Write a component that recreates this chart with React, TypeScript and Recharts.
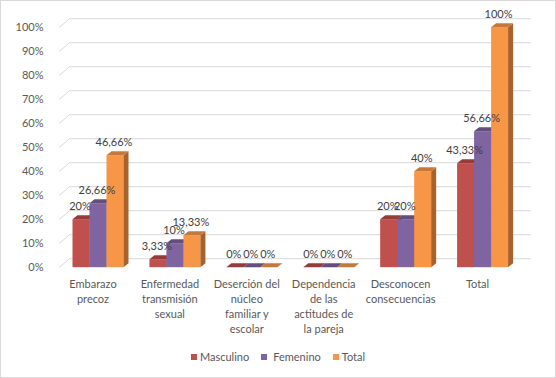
import React from "react";
import { BarChart, Bar, XAxis, YAxis, CartesianGrid, LabelList } from "recharts";

const categories = [
  "Embarazo precoz",
  "Enfermedad transmisión sexual",
  "Deserción del núcleo familiar y escolar",
  "Dependencia de las actitudes de la pareja",
  "Desconocen consecuencias",
  "Total",
];
const categoryLines = [
  ["Embarazo", "precoz"],
  ["Enfermedad", "transmisión", "sexual"],
  ["Deserción del", "núcleo", "familiar y", "escolar"],
  ["Dependencia", "de las", "actitudes de", "la pareja"],
  ["Desconocen", "consecuencias"],
  ["Total"],
];
const masculino = [20, 3.33, 0, 0, 20, 43.33];
const femenino = [26.66, 10, 0, 0, 20, 56.66];
const total = [46.66, 13.33, 0, 0, 40, 100];
const yTicks = [0, 10, 20, 30, 40, 50, 60, 70, 80, 90, 100];

const seriesInfo = [
  { key: "masculino", name: "Masculino", front: "#C0504D", top: "#963B38", side: "#8C3734" },
  { key: "femenino", name: "Femenino", front: "#8064A2", top: "#634E7E", side: "#5C4876" },
  { key: "total", name: "Total", front: "#F79646", top: "#C5783A", side: "#A8622C" },
];

const data = categories.map((c, i) => ({
  category: c,
  idx: i,
  masculino: masculino[i],
  femenino: femenino[i],
  total: total[i],
}));

const FONT = "Lato, 'Liberation Sans', sans-serif";
const DX = 5;
const DY = 4;
const GX = 10;
const GY = 8.5;

const make3D = (front: string, top: string, side: string) => (props: any) => {
  const { x, y, width, height } = props;
  if (x == null || y == null) return <g />;
  const h = Math.max(0, height || 0);
  const w = width;
  return (
    <g>
      <rect x={x} y={y} width={w} height={h} fill={front} />
      <polygon
        points={`${x + w},${y} ${x + w + DX},${y - DY} ${x + w + DX},${y + h - DY} ${x + w},${y + h}`}
        fill={side}
      />
      <polygon
        points={`${x},${y} ${x + DX},${y - DY} ${x + w + DX},${y - DY} ${x + w},${y}`}
        fill={top}
      />
    </g>
  );
};

const fmt = (v: number) => `${String(v).replace(".", ",")}%`;

const renderLabel = (p: any) => {
  const { x, y, width, value } = p;
  return (
    <text
      x={x + width / 2 - 1}
      y={y - 9}
      textAnchor="middle"
      fontFamily={FONT}
      fontSize={11}
      fill="#404040"
    >
      {fmt(value)}
    </text>
  );
};

const XTick = (props: any) => {
  const { x, y, index } = props;
  const lines = categoryLines[index] || [];
  return (
    <text x={x - 5} y={y + 21} textAnchor="middle" fontFamily={FONT} fontSize={11} fill="#595959">
      {lines.map((l: string, i: number) => (
        <tspan key={i} x={x - 5} dy={i === 0 ? 0 : 14.8}>
          {l}
        </tspan>
      ))}
    </text>
  );
};

const gridLine = (p: any) => {
  const { x1, y1, x2, y2 } = p;
  return (
    <g key={p.key}>
      <line x1={x1} y1={y1} x2={x1 + GX} y2={y1 - GY} stroke="#D9D9D9" strokeWidth={1} />
      <line x1={x1 + GX} y1={y1 - GY} x2={x2 + GX} y2={y2 - GY} stroke="#D9D9D9" strokeWidth={1} />
    </g>
  );
};

export default function App() {
  return (
    <div
      style={{
        position: "absolute",
        left: 0,
        top: 0,
        width: 556,
        height: 378,
        background: "#fff",
      }}
    >
      <BarChart
        width={556}
        height={378}
        data={data}
        margin={{ top: 27.2, right: 35, left: 0, bottom: 30.8 }}
        barGap={0}
        barSize={17}
      >
        <CartesianGrid vertical={false} horizontal={gridLine} />
        <XAxis
          dataKey="category"
          axisLine={false}
          tickLine={false}
          tickSize={0}
          tickMargin={0}
          height={80}
          interval={0}
          tick={<XTick />}
        />
        <YAxis
          domain={[0, 100]}
          ticks={yTicks}
          axisLine={false}
          tickLine={false}
          tickSize={0}
          tickMargin={16}
          width={59.5}
          interval={0}
          tickFormatter={(v: number) => `${v}%`}
          tick={{ fontFamily: FONT, fontSize: 11, fill: "#595959" }}
        />
        {seriesInfo.map((s) => (
          <Bar
            key={s.key}
            dataKey={s.key}
            name={s.name}
            fill={s.front}
            isAnimationActive={false}
            shape={make3D(s.front, s.top, s.side)}
          >
            <LabelList dataKey={s.key} content={renderLabel} />
          </Bar>
        ))}
      </BarChart>
      <div
        style={{
          position: "absolute",
          left: 0,
          top: 349,
          width: 556,
          display: "flex",
          justifyContent: "center",
          alignItems: "center",
          fontFamily: FONT,
          fontSize: 11,
          color: "#595959",
          lineHeight: "16px",
        }}
      >
        {seriesInfo.map((s, i) => (
          <div key={s.key} style={{ display: "flex", alignItems: "center", marginLeft: i === 0 ? 0 : 12 }}>
            <span style={{ display: "inline-block", width: 6, height: 6, background: s.front, marginRight: i === 1 ? 6 : 3 }} />
            <span>{s.name}</span>
          </div>
        ))}
      </div>
      <div
        style={{
          position: "absolute",
          left: 0,
          top: 0,
          width: 556,
          height: 378,
          boxSizing: "border-box",
          border: "1px solid #D9D9D9",
          pointerEvents: "none",
        }}
      />
    </div>
  );
}
